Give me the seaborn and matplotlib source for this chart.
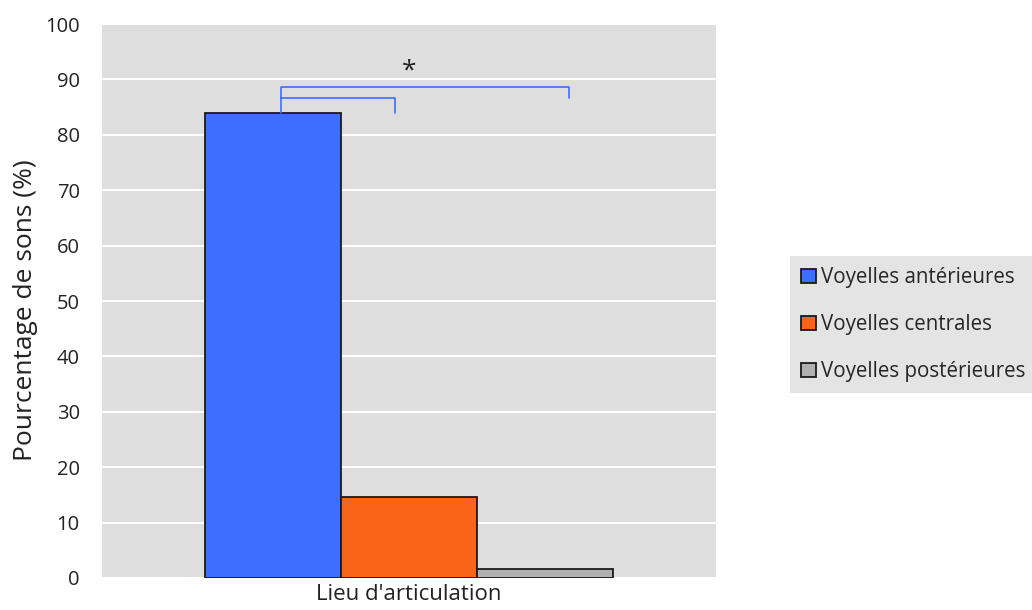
import pandas as pd
import matplotlib
matplotlib.use("Agg")
import matplotlib.pyplot as plt
import seaborn as sns

# data
categories = ["Lieu d'articulation"]
groups = ["Voyelles antérieures", "Voyelles centrales", "Voyelles postérieures"]
values = [83.9, 14.6, 1.6]
colors = ["#3d6eff", "#fa6419", "#b0b0b0"]
yticks = [0, 10, 20, 30, 40, 50, 60, 70, 80, 90, 100]

df = pd.DataFrame({"lieu": categories * len(groups), "groupe": groups, "pct": values})

sns.set_style("white")
plt.rcParams["font.family"] = ["Open Sans", "DejaVu Sans"]

fig = plt.figure(figsize=(10.32, 6.10), dpi=100)
ax = fig.add_axes([0.0988, 0.0525, 0.595, 0.908])
ax.set_facecolor("#dedede")

sns.barplot(data=df, x="lieu", y="pct", hue="groupe", palette=colors,
            saturation=1, width=0.666, edgecolor="#1a1a1a", linewidth=1.3,
            ax=ax, zorder=3)

ax.set_xlim(-0.5, 0.5)
ax.set_ylim(0, 100)
ax.set_yticks(yticks)
ax.yaxis.grid(True, color="white", linewidth=1.5, zorder=0)
ax.set_axisbelow(True)
for s in ax.spines.values():
    s.set_visible(False)
ax.tick_params(axis="both", length=0, colors="#222222")
ax.tick_params(axis="y", labelsize=14.5, pad=16)
ax.tick_params(axis="x", labelsize=16, pad=4)
ax.set_xlabel("")
ax.set_ylabel("Pourcentage de sons (%)", fontsize=19, color="#222222")
ax.yaxis.set_label_coords(-0.104, 0.484)

# significance brackets
bx = [p.get_x() + p.get_width() / 2 for p in ax.patches[:3]]
left = bx[0] + 0.014
br_col = "#3d6eff"
ax.plot([left, left, bx[1] - 0.022, bx[1] - 0.022], [84, 86.6, 86.6, 84],
        color=br_col, lw=1.2, zorder=4)
ax.plot([left, left, bx[2] + 0.039, bx[2] + 0.039], [86.6, 88.7, 88.7, 86.6],
        color=br_col, lw=1.2, zorder=4)
ax.text(bx[1], 91.5, "*", ha="center", va="center",
        fontsize=19, color="#222222")

# legend
leg = ax.legend(loc="center left", bbox_to_anchor=(1.1205, 0.4576), frameon=True,
                fontsize=14.8, handlelength=0.7, handleheight=0.7,
                handletextpad=0.25, labelspacing=1.26, borderpad=0.55,
                borderaxespad=0, facecolor="#dedede", edgecolor="none",
                fancybox=False)
for h in leg.legend_handles:
    h.set_edgecolor("#1a1a1a")
    h.set_linewidth(1.3)

plt.savefig("out.png", dpi=100)
